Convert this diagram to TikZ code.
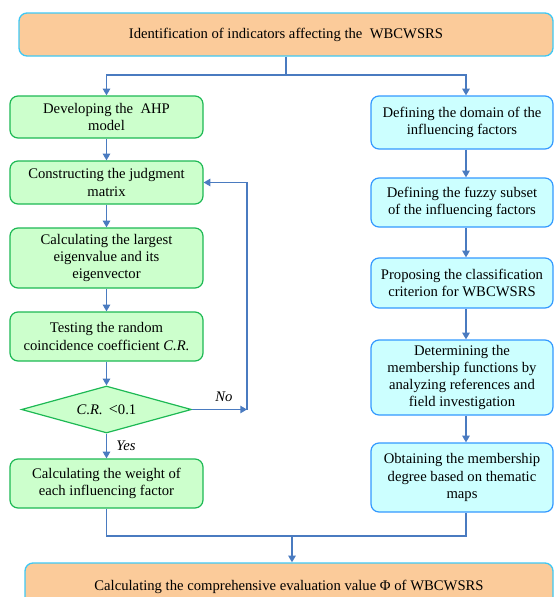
\documentclass[tikz,border=0pt]{standalone}
\usepackage{fontspec}
\setmainfont{Liberation Serif}
\usetikzlibrary{arrows.meta,shapes.geometric}
\definecolor{peach}{HTML}{FBCB9A}
\definecolor{peachline}{HTML}{3FC8F4}
\definecolor{gfill}{HTML}{CCFFCC}
\definecolor{gline}{HTML}{1DB954}
\definecolor{cfill}{HTML}{CCFFFF}
\definecolor{cline}{HTML}{3399FF}
\definecolor{arr}{HTML}{4A7BC0}
\begin{document}
\begin{tikzpicture}[x=0.75pt,y=-0.75pt,
  every node/.style={font=\fontsize{11}{12.9}\selectfont, align=center, inner sep=0pt},
  obox/.style={draw=peachline, fill=peach, rounded corners=6pt, line width=1pt},
  gbox/.style={draw=gline, fill=gfill, rounded corners=6pt, line width=0.9pt, minimum width=144.75pt},
  cbox/.style={draw=cline, fill=cfill, rounded corners=6pt, line width=0.9pt, minimum width=136.5pt},
  gdia/.style={draw=gline, fill=gfill, diamond, shape aspect=3.6, line width=0.9pt, minimum width=127.5pt, minimum height=35.25pt},
  conn/.style={draw=arr, line width=1.1pt},
  arrow/.style={conn, -{Triangle[length=5pt,width=5.5pt]}},
  lbl/.style={font=\fontsize{11}{12.9}\selectfont\itshape}
]
\useasboundingbox (0,0) rectangle (554,597);
\begin{scope}
\clip (0,0) rectangle (554,597);
\node[obox, minimum width=400.5pt, minimum height=32.25pt] (top) at (286,34.5) {Identification of indicators affecting the\ \ WBCWSRS};

\node[gbox, minimum height=31.5pt] (b1) at (106.5,117) {Developing the\ \ AHP\\model};
\node[gbox, minimum height=32.25pt] (b2) at (106.5,182.5) {Constructing the judgment\\matrix};
\node[gbox, minimum height=45pt] (b3) at (106.5,258) {Calculating the largest\\eigenvalue and its\\eigenvector};
\node[gbox, minimum height=36.75pt] (b4) at (106.5,336.5) {Testing the random\\coincidence coefficient \textit{C.R.}};
\node[gdia] (d) at (106.5,409.5) {\textit{C.R.}\ \,{\large <}0.1};
\node[gbox, minimum height=36.75pt] (b5) at (106.5,483.5) {Calculating the weight of\\each influencing factor};

\node[cbox, minimum height=39.75pt] (r1) at (462,122.5) {Defining the domain of the\\influencing factors};
\node[cbox, minimum height=36.75pt] (r2) at (462,202.5) {Defining the fuzzy subset\\of the influencing factors};
\node[cbox, minimum height=37.5pt] (r3) at (462,283) {Proposing the classification\\criterion for WBCWSRS};
\node[cbox, minimum height=56.25pt] (r4) at (462,377.5) {Determining the\\membership functions by\\analyzing references and\\field investigation};
\node[cbox, minimum height=51.75pt] (r5) at (462,477.5) {Obtaining the membership\\degree based on thematic\\maps};

\node[obox, minimum width=396pt, minimum height=36pt] (bot) at (289,587) {Calculating the comprehensive evaluation value Φ of WBCWSRS};
\end{scope}

\coordinate (rx) at (466,0);
\coordinate (s1) at (286,75);
\draw[conn] (top.south) -- (s1);
\draw[arrow] (s1) -| (b1.north);
\draw[arrow] (s1) -| (r1.north -| rx);

\draw[arrow] (b1) -- (b2);
\draw[arrow] (b2) -- (b3);
\draw[arrow] (b3) -- (b4);
\draw[arrow] (b4.south) -- (d.north);
\draw[arrow] (d.south) -- (b5.north);

\coordinate (fb) at (247,409.5);
\draw[arrow] (d.east) -- (fb);
\draw[arrow] (fb) |- (b2.east);
\node[lbl] (no) at (224,397) {No};
\node[lbl] (yes) at (126,446) {Yes};

\draw[arrow] (r1.south -| rx) -- (r2.north -| rx);
\draw[arrow] (r2.south -| rx) -- (r3.north -| rx);
\draw[arrow] (r3.south -| rx) -- (r4.north -| rx);
\draw[arrow] (r4.south -| rx) -- (r5.north -| rx);

\coordinate (j) at (292,536);
\draw[conn] (b5.south) -- (b5.south |- j) -- (j -| rx) -- (r5.south -| rx);
\draw[arrow] (j) -- (bot.north -| j);
\end{tikzpicture}
\end{document}
